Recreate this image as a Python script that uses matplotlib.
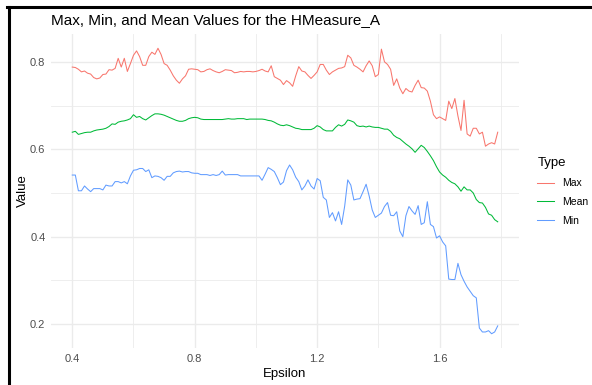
import numpy as np
import matplotlib
matplotlib.use("Agg")
import matplotlib.pyplot as plt
from matplotlib.lines import Line2D

plt.rcParams['font.family'] = ['Liberation Sans', 'DejaVu Sans']

# epsilon grid 0.40 .. 1.79, step 0.01
epsilon = np.round(np.arange(140) * 0.01 + 0.40, 2)

max_vals = [
    0.788, 0.787, 0.783, 0.777, 0.779, 0.774, 0.772, 0.764, 0.761, 0.763,
    0.771, 0.772, 0.782, 0.781, 0.785, 0.808, 0.788, 0.808, 0.778, 0.796,
    0.815, 0.825, 0.812, 0.792, 0.792, 0.812, 0.822, 0.817, 0.831, 0.817,
    0.796, 0.792, 0.781, 0.768, 0.758, 0.751, 0.761, 0.768, 0.783, 0.784,
    0.783, 0.782, 0.777, 0.778, 0.782, 0.784, 0.780, 0.777, 0.775, 0.778,
    0.782, 0.781, 0.780, 0.775, 0.776, 0.778, 0.777, 0.778, 0.778, 0.777,
    0.778, 0.780, 0.783, 0.779, 0.777, 0.791, 0.766, 0.762, 0.758, 0.748,
    0.757, 0.752, 0.744, 0.768, 0.789, 0.779, 0.777, 0.769, 0.762, 0.769,
    0.777, 0.794, 0.794, 0.781, 0.771, 0.777, 0.781, 0.785, 0.786, 0.789,
    0.815, 0.809, 0.792, 0.788, 0.783, 0.777, 0.791, 0.802, 0.791, 0.766,
    0.771, 0.829, 0.800, 0.794, 0.783, 0.746, 0.761, 0.740, 0.727, 0.739,
    0.733, 0.731, 0.746, 0.758, 0.741, 0.740, 0.733, 0.710, 0.679, 0.670,
    0.674, 0.670, 0.666, 0.710, 0.693, 0.716, 0.676, 0.643, 0.712, 0.635,
    0.630, 0.648, 0.648, 0.635, 0.639, 0.607, 0.612, 0.615, 0.612, 0.639,
]

mean_vals = [
    0.639, 0.641, 0.634, 0.636, 0.638, 0.639, 0.639, 0.642, 0.644, 0.645,
    0.646, 0.648, 0.652, 0.658, 0.657, 0.662, 0.664, 0.665, 0.667, 0.670,
    0.679, 0.673, 0.675, 0.670, 0.667, 0.672, 0.677, 0.681, 0.681, 0.680,
    0.678, 0.675, 0.672, 0.669, 0.666, 0.664, 0.664, 0.666, 0.670, 0.672,
    0.673, 0.672, 0.669, 0.668, 0.668, 0.668, 0.668, 0.668, 0.668, 0.668,
    0.669, 0.670, 0.669, 0.669, 0.670, 0.670, 0.670, 0.668, 0.669, 0.669,
    0.669, 0.669, 0.669, 0.668, 0.666, 0.665, 0.662, 0.658, 0.655, 0.654,
    0.656, 0.654, 0.651, 0.648, 0.647, 0.645, 0.645, 0.645, 0.645, 0.648,
    0.654, 0.651, 0.645, 0.642, 0.642, 0.642, 0.650, 0.656, 0.653, 0.657,
    0.667, 0.665, 0.662, 0.654, 0.652, 0.653, 0.651, 0.653, 0.651, 0.650,
    0.650, 0.648, 0.646, 0.646, 0.641, 0.632, 0.627, 0.624, 0.618, 0.612,
    0.607, 0.601, 0.593, 0.601, 0.609, 0.604, 0.595, 0.585, 0.574, 0.560,
    0.548, 0.541, 0.536, 0.529, 0.524, 0.521, 0.514, 0.504, 0.514, 0.507,
    0.507, 0.500, 0.485, 0.478, 0.477, 0.467, 0.452, 0.449, 0.439, 0.434,
]

min_vals = [
    0.541, 0.541, 0.505, 0.505, 0.516, 0.509, 0.503, 0.510, 0.510, 0.510,
    0.507, 0.518, 0.516, 0.516, 0.526, 0.526, 0.523, 0.526, 0.521, 0.539,
    0.552, 0.553, 0.556, 0.556, 0.549, 0.553, 0.535, 0.539, 0.538, 0.535,
    0.529, 0.538, 0.538, 0.546, 0.549, 0.550, 0.548, 0.549, 0.549, 0.546,
    0.545, 0.545, 0.542, 0.542, 0.542, 0.540, 0.542, 0.540, 0.542, 0.550,
    0.541, 0.542, 0.542, 0.542, 0.542, 0.539, 0.539, 0.539, 0.539, 0.539,
    0.539, 0.539, 0.529, 0.543, 0.558, 0.554, 0.549, 0.535, 0.519, 0.525,
    0.551, 0.564, 0.553, 0.536, 0.526, 0.507, 0.516, 0.530, 0.516, 0.509,
    0.533, 0.528, 0.490, 0.484, 0.444, 0.455, 0.436, 0.457, 0.428, 0.470,
    0.530, 0.518, 0.484, 0.486, 0.487, 0.503, 0.520, 0.493, 0.461, 0.444,
    0.449, 0.454, 0.469, 0.478, 0.449, 0.448, 0.457, 0.413, 0.400, 0.448,
    0.469, 0.459, 0.451, 0.471, 0.428, 0.432, 0.480, 0.428, 0.423, 0.397,
    0.402, 0.388, 0.379, 0.303, 0.302, 0.302, 0.339, 0.313, 0.298, 0.285,
    0.275, 0.265, 0.260, 0.191, 0.182, 0.182, 0.185, 0.178, 0.182, 0.196,
]

types = ["Max", "Mean", "Min"]
colors = ["#F8766D", "#00BA38", "#619CFF"]

fig = plt.figure(figsize=(5.92, 3.85), dpi=100)
ax = fig.add_axes([51 / 592, 1 - 348 / 385, 468 / 592, 314 / 385])

for name, vals, c in zip(types, [max_vals, mean_vals, min_vals], colors):
    ax.plot(epsilon, vals, color=c, lw=0.75, label=name)

# ggplot-like expansion (5%)
all_y = max_vals + mean_vals + min_vals
xr = epsilon[-1] - epsilon[0]
yr = max(all_y) - min(all_y)
ax.set_xlim(epsilon[0] - 0.05 * xr, epsilon[-1] + 0.05 * xr)
ax.set_ylim(min(all_y) - 0.05 * yr, max(all_y) + 0.05 * yr)

ax.set_xticks([0.4, 0.8, 1.2, 1.6])
ax.set_xticklabels(["0.4", "0.8", "1.2", "1.6"])
ax.set_xticks([0.6, 1.0, 1.4, 1.8], minor=True)
ax.set_yticks([0.2, 0.4, 0.6, 0.8])
ax.set_yticklabels(["0.2", "0.4", "0.6", "0.8"])
ax.set_yticks([0.3, 0.5, 0.7], minor=True)

ax.grid(True, which="major", color="#EBEBEB", lw=1.0)
ax.grid(True, which="minor", color="#EBEBEB", lw=0.6)
ax.set_axisbelow(True)
for s in ax.spines.values():
    s.set_visible(False)
ax.tick_params(which="both", length=0)
ax.tick_params(axis="both", labelsize=8, labelcolor="#4D4D4D", pad=4)

ax.set_xlabel("Epsilon", fontsize=9.5, labelpad=3)
ax.set_ylabel("Value", fontsize=9.5, labelpad=1)
fig.text(51 / 592, 1 - 20 / 385, "Max, Min, and Mean Values for the HMeasure_A",
         fontsize=11, ha="left", va="center")

handles, labels = ax.get_legend_handles_labels()
leg = fig.legend(handles, labels, title="Type", loc="upper left",
                 bbox_to_anchor=(530 / 592, 1 - 150 / 385),
                 frameon=False, fontsize=7.5, title_fontsize=9.5,
                 handlelength=1.6, handletextpad=0.8, labelspacing=0.85,
                 borderpad=0.2)
leg._legend_box.align = "left"

# black frame on top and left edges
fig.add_artist(Line2D([8.5 / 592, 8.5 / 592], [0, 1 - 7 / 385], color="black",
                      lw=2.2, transform=fig.transFigure))
fig.add_artist(Line2D([7 / 592, 1], [1 - 7 / 385, 1 - 7 / 385], color="black",
                      lw=2.2, transform=fig.transFigure))

fig.savefig("out.png", dpi=100)
